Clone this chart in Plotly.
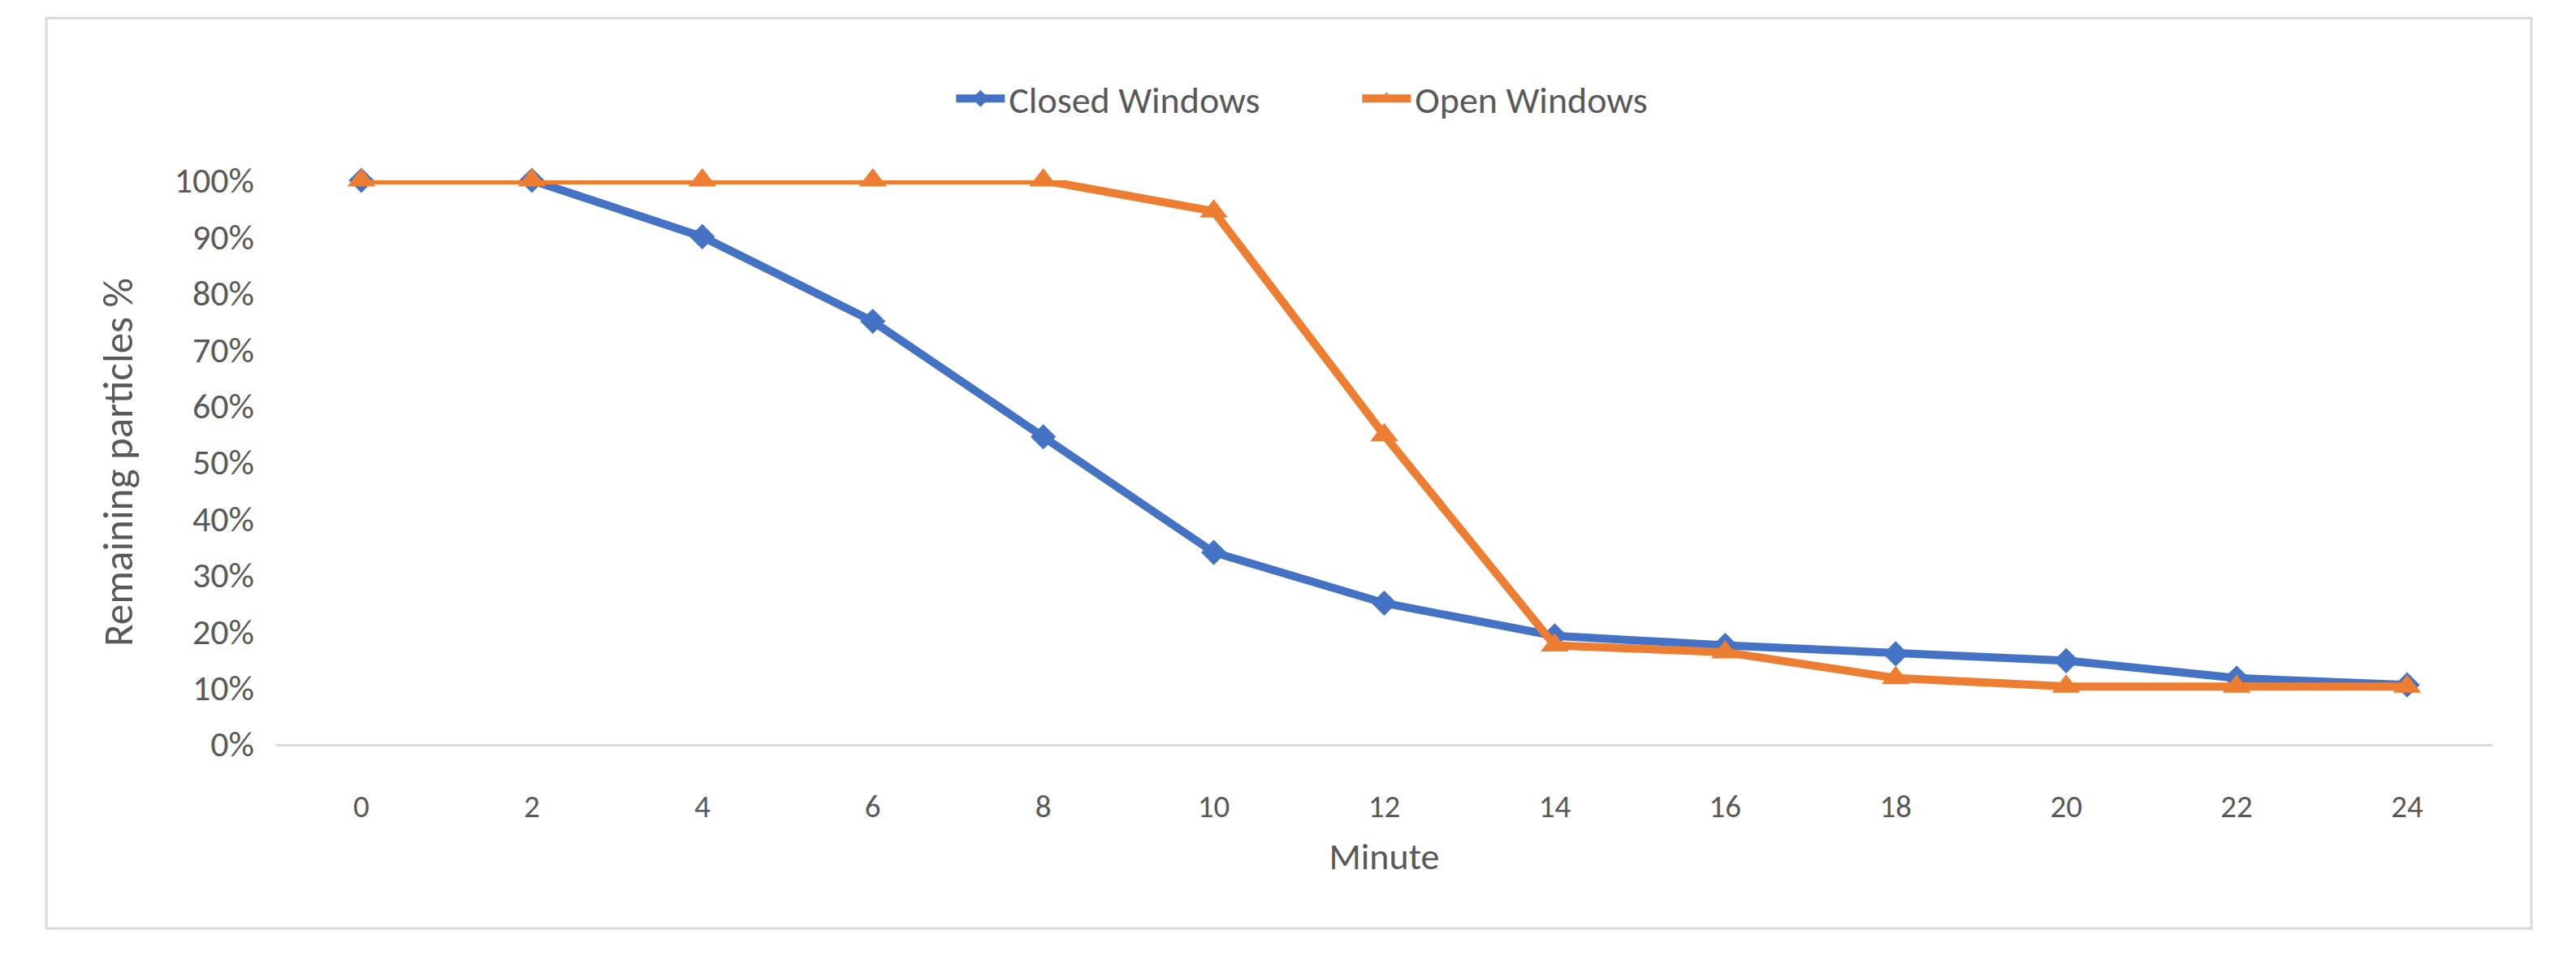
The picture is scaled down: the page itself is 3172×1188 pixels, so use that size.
import plotly.graph_objects as go

# Data
minutes = [0, 2, 4, 6, 8, 10, 12, 14, 16, 18, 20, 22, 24]
closed_windows = [1.00, 1.00, 0.90, 0.75, 0.545, 0.34, 0.25, 0.192, 0.175, 0.16, 0.148, 0.117, 0.105]
open_windows = [1.00, 1.00, 1.00, 1.00, 1.00, 0.945, 0.548, 0.175, 0.163, 0.117, 0.102, 0.102, 0.102]
y_ticks = [0, 0.1, 0.2, 0.3, 0.4, 0.5, 0.6, 0.7, 0.8, 0.9, 1.0]

FONT = "Carlito, Lato, sans-serif"
GREY = "#595959"

fig = go.Figure()

fig.add_trace(go.Scatter(
    x=minutes, y=closed_windows, name="Closed Windows",
    mode="lines+markers",
    line=dict(color="#4472C4", width=10),
    marker=dict(symbol="diamond", size=24, color="#4472C4"),
    cliponaxis=False,
))
fig.add_trace(go.Scatter(
    x=minutes, y=open_windows, name="Open Windows",
    mode="lines+markers",
    line=dict(color="#ED7D31", width=10),
    marker=dict(symbol="triangle-up", size=30, color="#ED7D31"),
    cliponaxis=False,
))

# page body has an 8px margin, so the figure is 8px smaller each way
fig.update_layout(
    width=3164, height=1180,
    paper_bgcolor="white", plot_bgcolor="white",
    margin=dict(l=332, r=103, t=214, b=272),
    font=dict(family=FONT, size=39, color=GREY),
    showlegend=True,
    legend=dict(
        orientation="h", x=0.305, y=1.145, xanchor="left", yanchor="middle",
        font=dict(size=46, color=GREY), entrywidth=425, itemwidth=60,
    ),
    xaxis=dict(
        range=[-1, 25], tickvals=minutes, ticks="", showgrid=False,
        zeroline=False, showline=True, linecolor="#D9D9D9", linewidth=3,
        tickfont=dict(size=39, color=GREY), ticklabelstandoff=40,
        title=dict(text="Minute", font=dict(size=46, color=GREY), standoff=24),
    ),
    yaxis=dict(
        range=[0, 1.0], tickvals=y_ticks, tickformat=".0%", ticks="",
        showgrid=False, zeroline=False, showline=False,
        tickfont=dict(size=44, color=GREY), ticklabelstandoff=26,
        title=dict(text="Remaining particles %", font=dict(size=51, color=GREY), standoff=34),
    ),
    shapes=[dict(
        type="rect", xref="paper", yref="paper",
        x0=-0.1037, x1=1.0176, y0=-0.327, y1=1.288,
        line=dict(color="#D9D9D9", width=3), layer="below",
    )],
)

fig.write_html("out.html")
